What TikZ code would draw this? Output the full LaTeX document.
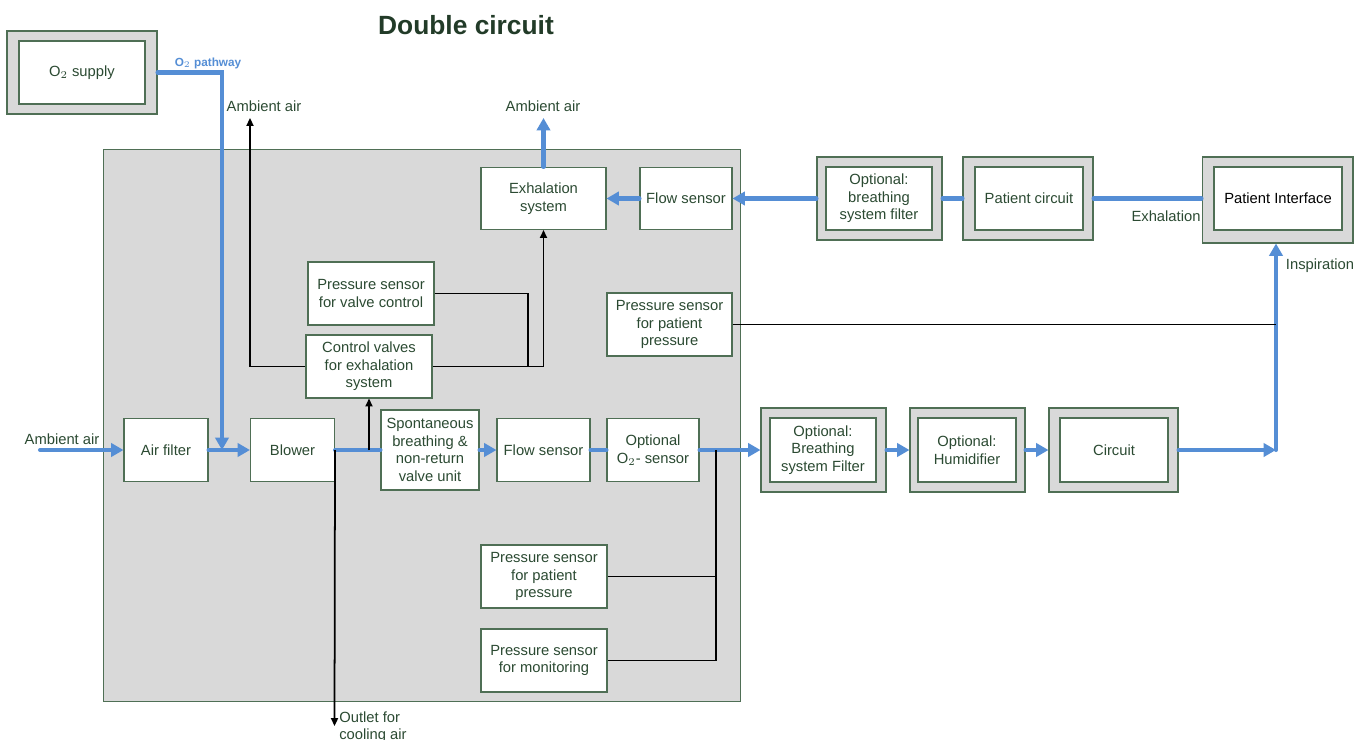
\documentclass[tikz,border=0pt]{standalone}
\usepackage{fontspec}
\setmainfont{Liberation Sans}
\usetikzlibrary{arrows.meta}

\definecolor{o2blue}{HTML}{558ED5}
\definecolor{edge}{HTML}{4F6F55}
\definecolor{txt}{HTML}{2B4A32}
\definecolor{panel}{HTML}{D9D9D9}

\begin{document}
\begin{tikzpicture}[
    x=0.02cm, y=-0.02cm,
    box/.style={draw=edge, fill=white, line width=0.6pt, align=center, text=txt, inner sep=1pt},
    outer/.style={draw=edge, fill=panel, line width=0.6pt},
    flow/.style={draw=o2blue, line width=2.3pt, line cap=round, >={Triangle[length=7pt, width=7.5pt]}},
    sig/.style={draw=black, line width=1pt, >={Triangle[length=4.5pt, width=4pt]}},
    lbl/.style={text=txt, inner sep=0pt},
    font=\fontsize{8.4}{10}\selectfont
]
    \useasboundingbox (0,0) rectangle (1356,740);

    % Titel
    \node[lbl, text=txt!80!black, font=\fontsize{15}{18}\selectfont\bfseries] (title) at (466,25) {Double circuit};

    % Ventilator (graues Gehaeuse)
    \node[outer, minimum width=12.76cm, minimum height=11.06cm] (vent) at (422,425.5) {};

    % O2-Versorgung
    \node[outer, minimum width=3.0cm, minimum height=1.66cm] (o2o) at (82,72.5) {};
    \node[box, minimum width=2.52cm, minimum height=1.26cm] (o2) at (82,72.5) {O$_2$ supply};

    % Exhalationszweig (oben)
    \node[box, minimum width=2.5cm, minimum height=1.24cm] (exh) at (543.5,198.5) {Exhalation\\system};
    \node[box, minimum width=1.84cm, minimum height=1.24cm] (fs1) at (686,198.5) {Flow sensor};
    \node[outer, minimum width=2.5cm, minimum height=1.66cm] (bsfo) at (879.5,198.5) {};
    \node[box, minimum width=2.12cm, minimum height=1.26cm] (bsf) at (879,198.5) {Optional:\\breathing\\system filter};
    \node[outer, minimum width=2.6cm, minimum height=1.66cm] (pco) at (1028,198.5) {};
    \node[box, minimum width=2.16cm, minimum height=1.26cm] (pc) at (1029,198.5) {Patient circuit};
    \node[outer, minimum width=3.02cm, minimum height=1.72cm] (pio) at (1277.5,200) {};
    \node[box, minimum width=2.56cm, minimum height=1.26cm, text=black] (pi) at (1278,198.5) {Patient Interface};

    % Drucksensoren und Ventile
    \node[box, minimum width=2.52cm, minimum height=1.26cm] (psv) at (371,293.5) {Pressure sensor\\for valve control};
    \node[box, minimum width=2.52cm, minimum height=1.26cm] (cv) at (369,366.5) {Control valves\\for exhalation\\system};
    \node[box, minimum width=2.5cm, minimum height=1.26cm] (psp1) at (669.5,324.5) {Pressure sensor\\for patient\\pressure};

    % Inspirationszweig (unten)
    \node[box, minimum width=1.68cm, minimum height=1.26cm] (af) at (166,450) {Air filter};
    \node[box, minimum width=1.68cm, minimum height=1.26cm] (bl) at (292.5,450) {Blower};
    \node[box, minimum width=1.96cm, minimum height=1.6cm] (snr) at (430,450) {Spontaneous\\breathing \&\\non-return\\valve unit};
    \node[box, minimum width=1.86cm, minimum height=1.26cm] (fs2) at (543.5,450) {Flow sensor};
    \node[box, minimum width=1.84cm, minimum height=1.26cm] (o2s) at (653,450) {Optional\\O$_2$- sensor};
    \node[outer, minimum width=2.5cm, minimum height=1.68cm] (bsf2o) at (823.5,450) {};
    \node[box, minimum width=2.12cm, minimum height=1.28cm] (bsf2) at (823,450) {Optional:\\Breathing\\system Filter};
    \node[outer, minimum width=2.3cm, minimum height=1.68cm] (humo) at (967.5,450) {};
    \node[box, minimum width=1.96cm, minimum height=1.28cm] (hum) at (967,450) {Optional:\\Humidifier};
    \node[outer, minimum width=2.58cm, minimum height=1.68cm] (ciro) at (1113.5,450) {};
    \node[box, minimum width=2.16cm, minimum height=1.28cm] (cir) at (1114,450) {Circuit};
    \node[box, minimum width=2.52cm, minimum height=1.26cm] (psp2) at (544,576.5) {Pressure sensor\\for patient\\pressure};
    \node[box, minimum width=2.52cm, minimum height=1.26cm] (psm) at (544,660.5) {Pressure sensor\\for monitoring};

    % Hilfspunkte
    \coordinate (ain) at (40,450);
    \coordinate (o2in) at (222,450);
    \coordinate (aout1) at (250,118);
    \coordinate (aout2) at (543.5,118);
    \coordinate (j2) at (528,366.5);
    \coordinate (j3) at (369,450);
    \coordinate (j4) at (716,450);
    \coordinate (j5) at (716,660.5);
    \coordinate (insp) at (1276,450);
    \coordinate (cool) at (334.5,726);

    % blaue Gaswege
    \draw[flow, ->] (o2o.east) -| (o2in);
    \draw[flow, ->] (ain) -- (af.west);
    \draw[flow, ->] (af.east) -- (bl.west);
    \draw[flow] (bl.east) -- (snr.west);
    \draw[flow, ->] (snr.east) -- (fs2.west);
    \draw[flow] (fs2.east) -- (o2s.west);
    \draw[flow, ->] (o2s.east) -- (bsf2o.west);
    \draw[flow, ->] (bsf2o.east) -- (humo.west);
    \draw[flow, ->] (humo.east) -- (ciro.west);
    \draw[flow, ->] (ciro.east) -- (insp);
    \draw[flow, ->] (insp) -- (insp |- pio.south);
    \draw[flow] (pco.east -| pio.west) -- (pco.east);
    \draw[flow] (pco.west) -- (bsfo.east);
    \draw[flow, ->] (bsfo.west) -- (fs1.east);
    \draw[flow, ->] (fs1.west) -- (exh.east);
    \draw[flow, ->] (exh.north) -- (aout2);

    % schwarze Signal-/Druckleitungen
    \draw[sig, ->] (cv.west) -| (aout1);
    \draw[sig, ->] (cv.east) -| (exh.south);
    \draw[sig] (psv.east) -| (j2);
    \draw[sig, ->] (j3) -- (cv.south);
    \draw[sig, ->] (bl.east) -- (cool);
    \draw[sig] (j4) -- (j5);
    \draw[sig] (psp2.east) -- (psp2.east -| j4);
    \draw[sig] (psm.east) -- (j5);
    \draw[sig] (psp1.east) -- (psp1.east -| insp);

    % Beschriftungen
    \node[lbl, text=o2blue, font=\fontsize{6.7}{8}\selectfont\bfseries] (o2lbl) at (208,63) {O$_2$ pathway};
    \node[lbl] (amb1) at (264,106) {Ambient air};
    \node[lbl] (amb2) at (543,106) {Ambient air};
    \node[lbl] (amb3) at (62,439) {Ambient air};
    \node[lbl] (exlbl) at (1166,216) {Exhalation};
    \node[lbl] (inlbl) at (1320,266) {Inspiration};
    \node[lbl, anchor=north west, align=left] (coollbl) at (339,711) {Outlet for\\cooling air};

\end{tikzpicture}
\end{document}
